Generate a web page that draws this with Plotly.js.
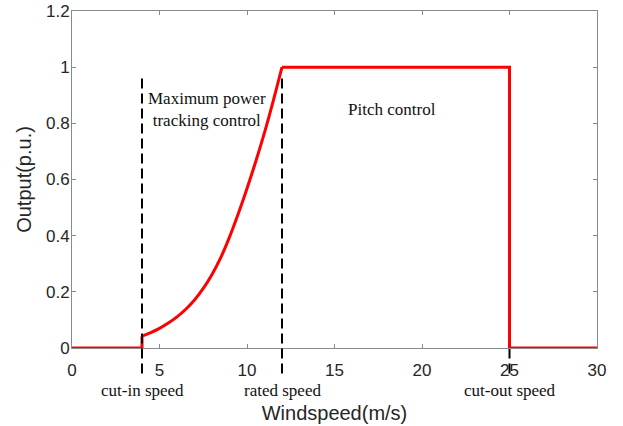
<!DOCTYPE html>
<html>
<head>
<meta charset="utf-8">
<script src="https://cdn.plot.ly/plotly-3.0.1.min.js"></script>
<style>
  html, body { margin: 0; padding: 0; background: #fff; }
  #chart { width: 623px; height: 426px; }
</style>
</head>
<body>
<div id="chart"></div>
<script>
// Wind turbine power curve: output (p.u.) versus wind speed (m/s)
const windSpeed = [0, 4, 4, 4.5, 5, 5.5, 6, 6.5, 7, 7.5, 8, 8.5, 9, 9.5, 10, 10.5, 11, 11.5, 12, 25, 25, 30];
const outputPU  = [0, 0, 0.042, 0.055, 0.07, 0.089, 0.111, 0.138, 0.171, 0.212, 0.262, 0.322, 0.395, 0.478, 0.568, 0.664, 0.767, 0.88, 1.0, 1.0, 0, 0];

// Characteristic speeds marked by dashed lines
const speedNames  = ['cut-in speed', 'rated speed', 'cut-out speed'];
const speedValues = [4, 12, 25];

// Operating region labels
const regionNames = ['Maximum power<br>tracking control', 'Pitch control'];
const regionX     = [7.7, 18.3];
const regionY     = [0.848, 0.848];

const xTicks = [0, 5, 10, 15, 20, 25, 30];
const yTicks = [0, 0.2, 0.4, 0.6, 0.8, 1, 1.2];

const serif = 'Liberation Serif, Times New Roman, serif';
const sans  = 'Liberation Sans, Arial, sans-serif';

const shapes = speedValues.map((v, i) => ({
  type: 'line',
  xref: 'x', yref: 'paper',
  x0: v, x1: v,
  y0: -0.076, y1: 0.804,
  layer: i === 2 ? 'below' : 'above',
  line: { color: '#000', width: 2, dash: '10px,5px' }
}));

const annotations = [];
regionNames.forEach((t, i) => annotations.push({
  x: regionX[i], y: regionY[i], xref: 'x', yref: 'y',
  text: t, showarrow: false,
  font: { family: serif, size: 17, color: '#111' },
  xanchor: 'center', yanchor: 'middle'
}));
speedNames.forEach((t, i) => annotations.push({
  x: speedValues[i], y: -0.126, xref: 'x', yref: 'paper',
  text: t, showarrow: false,
  font: { family: serif, size: 17, color: '#111' },
  xanchor: 'center', yanchor: 'middle'
}));

// The curve is drawn in three pieces: idle below cut-in, the smooth
// tracking region between cut-in and rated speed, and the flat/off part.
const cutInIdx = 2;   // first point on the tracking curve
const ratedIdx = 18;  // rated point
const lineStyle = { color: '#ff0000', width: 3 };
function piece(a, b, shape) {
  return {
    x: windSpeed.slice(a, b + 1), y: outputPU.slice(a, b + 1),
    type: 'scatter', mode: 'lines',
    line: Object.assign({ shape: shape, smoothing: 1 }, lineStyle),
    cliponaxis: false, hoverinfo: 'skip'
  };
}
const traces = [
  piece(0, cutInIdx, 'linear'),
  piece(cutInIdx, ratedIdx, 'spline'),
  piece(ratedIdx, windSpeed.length - 1, 'linear')
];

const axisCommon = {
  showline: true, linecolor: '#8a8a8a', linewidth: 1,
  mirror: 'ticks', ticks: 'inside', ticklen: 4, tickcolor: '#8a8a8a',
  showgrid: false, zeroline: false,
  tickfont: { family: sans, size: 17, color: '#262626' },
  layer: 'below traces'
};

const layout = {
  width: 623, height: 426,
  margin: { l: 72, r: 26, t: 11, b: 78 },
  paper_bgcolor: '#fff', plot_bgcolor: '#fff',
  showlegend: false,
  xaxis: Object.assign({}, axisCommon, {
    range: [0, 30], tickvals: xTicks, ticktext: xTicks.map(String),
    ticklabelstandoff: 7,
    title: { text: 'Windspeed(m/s)', font: { family: sans, size: 20, color: '#262626' }, standoff: 26 }
  }),
  yaxis: Object.assign({}, axisCommon, {
    range: [0, 1.2], tickvals: yTicks, ticktext: yTicks.map(String),
    ticklabelstandoff: -2,
    title: { text: 'Output(p.u.)', font: { family: sans, size: 20, color: '#262626' }, standoff: 8 }
  }),
  shapes: shapes,
  annotations: annotations
};

Plotly.newPlot('chart', traces, layout, { displayModeBar: false, staticPlot: true });
</script>
</body>
</html>
